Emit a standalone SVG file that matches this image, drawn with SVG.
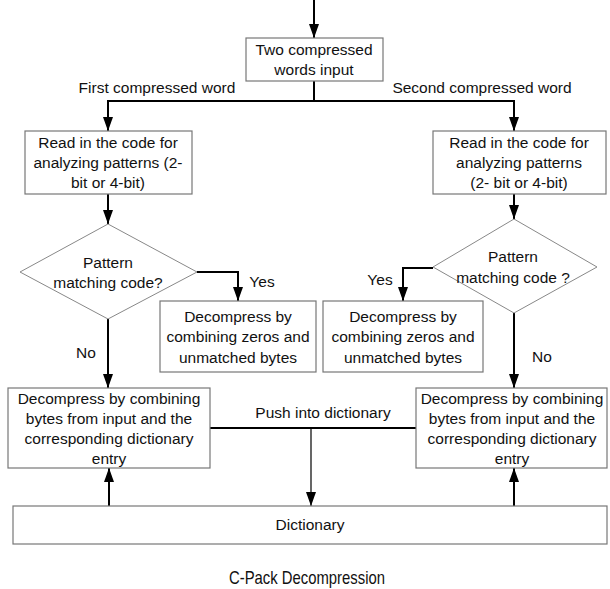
<svg xmlns="http://www.w3.org/2000/svg" width="610" height="589" viewBox="0 0 610 589">
<defs>
<marker id="ah" markerUnits="userSpaceOnUse" markerWidth="14" markerHeight="10" viewBox="0 0 14 10" refX="14" refY="5" orient="auto-start-reverse">
<path d="M0,0 L14,5 L0,10 Z" fill="#000"/>
</marker>
</defs>
<style>
.box{fill:#fff;stroke:#777;stroke-width:1.2}
.dia{fill:#fff;stroke:#888;stroke-width:1}
.t{font-family:"Liberation Sans",Arial,sans-serif;font-size:15.5px;fill:#111;text-anchor:middle}
.c{fill:none;stroke:#000;stroke-width:2}
.thin{fill:none;stroke:#000;stroke-width:1.2}
</style>
<rect width="610" height="589" fill="#fff"/>
<g id="connectors">
<line class="c" x1="314" y1="0" x2="314" y2="38" marker-end="url(#ah)"/>
<polyline class="c" points="314,81 314,101"/>
<polyline class="c" points="108,131 108,101 514,101 514,131" marker-start="url(#ah)" marker-end="url(#ah)"/>
<line class="c" x1="108" y1="194" x2="108" y2="224" marker-end="url(#ah)"/>
<line class="c" x1="514" y1="194" x2="514" y2="219" marker-end="url(#ah)"/>
<polyline class="c" points="197,272 238,272 238,301" marker-end="url(#ah)"/>
<polyline class="c" points="433,268 403,268 403,301" marker-end="url(#ah)"/>
<line class="c" x1="108" y1="319" x2="108" y2="388" marker-end="url(#ah)"/>
<line class="c" x1="514" y1="313" x2="514" y2="388" marker-end="url(#ah)"/>
<line class="c" x1="210" y1="428" x2="416" y2="428"/>
<line class="thin" x1="311" y1="428" x2="311" y2="506" marker-end="url(#ah)"/>
<line class="c" x1="109" y1="506" x2="109" y2="468" marker-end="url(#ah)"/>
<line class="c" x1="514" y1="506" x2="514" y2="468" marker-end="url(#ah)"/>
<text class="t" x="157" y="93">First compressed word</text>
<text class="t" x="482" y="93">Second compressed word</text>
<text class="t" x="262" y="287">Yes</text>
<text class="t" x="380" y="285">Yes</text>
<text class="t" x="86" y="358">No</text>
<text class="t" x="542" y="362">No</text>
<text class="t" x="323" y="418">Push into dictionary</text>
</g>
<g id="input">
<rect class="box" x="246" y="38" width="137" height="43"/>
<text class="t" x="314" y="55">Two compressed</text>
<text class="t" x="314" y="75">words input</text>
</g>
<g id="read-left">
<rect class="box" x="25" y="131" width="167" height="63"/>
<text class="t" x="108" y="148">Read in the code for</text>
<text class="t" x="108" y="168">analyzing patterns (2-</text>
<text class="t" x="108" y="188">bit or 4-bit)</text>
</g>
<g id="read-right">
<rect class="box" x="433" y="131" width="173" height="63"/>
<text class="t" x="519" y="148">Read in the code for</text>
<text class="t" x="519" y="168">analyzing patterns</text>
<text class="t" x="519" y="188">(2- bit or 4-bit)</text>
</g>
<g id="dec-left">
<polygon class="dia" points="108,224 197,272 108,319 20,272"/>
<text class="t" x="108" y="268">Pattern</text>
<text class="t" x="108" y="288">matching code?</text>
</g>
<g id="dec-right">
<polygon class="dia" points="514,219 597,267 514,313 433,267"/>
<text class="t" x="513" y="262">Pattern</text>
<text class="t" x="513" y="283">matching code ?</text>
</g>
<g id="zeros-left">
<rect class="box" x="160" y="301" width="156" height="71"/>
<text class="t" x="238" y="322">Decompress by</text>
<text class="t" x="238" y="342">combining zeros and</text>
<text class="t" x="238" y="363">unmatched bytes</text>
</g>
<g id="zeros-right">
<rect class="box" x="323" y="301" width="160" height="71"/>
<text class="t" x="403" y="322">Decompress by</text>
<text class="t" x="403" y="342">combining zeros and</text>
<text class="t" x="403" y="363">unmatched bytes</text>
</g>
<g id="dict-left">
<rect class="box" x="8" y="388" width="202" height="80"/>
<text class="t" x="109" y="404">Decompress by combining</text>
<text class="t" x="109" y="424">bytes from input and the</text>
<text class="t" x="109" y="444">corresponding dictionary</text>
<text class="t" x="109" y="464">entry</text>
</g>
<g id="dict-right">
<rect class="box" x="416" y="388" width="191" height="80"/>
<text class="t" x="512" y="404">Decompress by combining</text>
<text class="t" x="512" y="424">bytes from input and the</text>
<text class="t" x="512" y="444">corresponding dictionary</text>
<text class="t" x="512" y="464">entry</text>
</g>
<g id="dictionary">
<rect class="box" x="13" y="506" width="594" height="38"/>
<text class="t" x="310" y="530">Dictionary</text>
</g>
<g id="caption">
<text class="t" x="307" y="584" style="font-size:19px" textLength="156" lengthAdjust="spacingAndGlyphs">C-Pack Decompression</text>
</g>
</svg>
